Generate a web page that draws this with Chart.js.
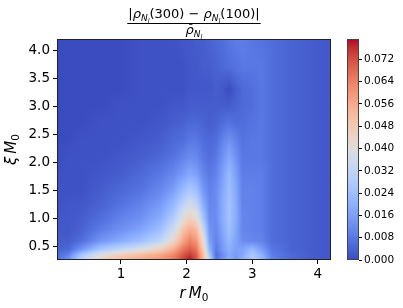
<!DOCTYPE html>
<html>
<head>
<meta charset="utf-8">
<script src="https://cdn.jsdelivr.net/npm/chart.js@4.4.1/dist/chart.umd.min.js"></script>
<style>
    html, body { margin: 0; padding: 0; background: #fff; }
    #wrap { position: relative; width: 403px; height: 308px; }
    #wrap canvas { position: absolute; left: 0; top: 0; }
</style>
</head>
<body>
<div id="wrap">
    <canvas id="heat" width="403" height="308"></canvas>
    <canvas id="cbar" width="403" height="308"></canvas>
</div>
<script>
// grid nodes (r M0 along x, xi M0 along y)
const rNodes = [0.026, 0.2, 0.4, 0.7, 1.0, 1.3, 1.6, 1.8, 1.95, 2.05, 2.15, 2.25, 2.35, 2.45, 2.55, 2.65, 2.75, 2.85, 3.0, 3.15, 3.3, 3.6, 3.9, 4.2];
const xiNodes = [0.26, 0.35, 0.45, 0.6, 0.8, 1.0, 1.25, 1.5, 1.8, 2.1, 2.4, 2.7, 3.0, 3.3, 3.7, 4.2];

// values x 1e-3, one array per xi row (same order as rNodes)
const xi026 = [6, 14, 32, 46, 52, 56, 60, 66, 74, 79, 72, 54, 30, 8, 14, 20, 14, 20, 28, 22, 10, 5, 3, 2];
const xi035 = [5, 10, 26, 40, 47, 52, 57, 63, 71, 75, 70, 52, 26, 6, 12, 18, 15, 18, 27, 20, 9, 5, 3, 2];
const xi045 = [4, 5, 14, 26, 32, 38, 46, 56, 66, 70, 66, 48, 20, 8, 15, 20, 16, 17, 22, 15, 8, 4, 3, 2];
const xi060 = [3, 3, 6, 14, 19, 24, 32, 44, 58, 64, 60, 42, 16, 10, 16, 22, 17, 12, 11, 10, 6, 4, 3, 2];
const xi080 = [2, 2, 4, 9, 13, 17, 24, 35, 50, 56, 52, 34, 14, 11, 18, 24, 18, 11, 10, 9, 6, 4, 3, 2];
const xi100 = [2, 2, 3, 6, 10, 13, 19, 28, 41, 46, 42, 26, 12, 12, 19, 25, 19, 11, 10, 9, 6, 4, 3, 2];
const xi125 = [1, 2, 2, 4, 7, 10, 15, 22, 31, 36, 32, 20, 11, 12, 19, 25, 19, 10, 10, 9, 6, 4, 3, 2];
const xi150 = [1, 1, 1, 3, 5, 7, 11, 16, 23, 27, 24, 15, 10, 12, 18, 24, 18, 10, 10, 9, 6, 4, 3, 2];
const xi180 = [1, 1, 1, 2, 3, 5, 8, 11, 15, 18, 16, 11, 8, 10, 16, 22, 16, 9, 9, 9, 6, 4, 3, 2];
const xi210 = [0, 1, 1, 1, 2, 3, 5, 7, 10, 12, 11, 8, 6, 8, 13, 18, 13, 8, 8, 8, 6, 4, 3, 2];
const xi240 = [0, 0, 1, 1, 1, 2, 3, 5, 6, 8, 8, 6, 5, 6, 10, 13, 10, 7, 8, 8, 6, 4, 3, 2];
const xi270 = [0, 0, 0, 1, 1, 1, 2, 3, 4, 5, 5, 4, 3, 4, 6, 7, 6, 6, 7, 8, 6, 4, 3, 2];
const xi300 = [0, 0, 0, 0, 1, 1, 1, 2, 2, 3, 3, 3, 3, 3, 3, 3, 4, 5, 6, 8, 6, 4, 3, 2];
const xi330 = [0, 0, 0, 0, 0, 1, 1, 1, 1, 2, 2, 2, 2, 3, 2, 0, 3, 5, 6, 8, 6, 4, 3, 2];
const xi370 = [0, 0, 0, 0, 0, 1, 1, 1, 1, 2, 2, 3, 3, 4, 5, 6, 7, 8, 8, 8, 6, 4, 3, 2];
const xi420 = [0, 0, 0, 0, 0, 1, 1, 1, 2, 2, 3, 3, 4, 5, 6, 8, 9, 9, 8, 7, 6, 4, 3, 2];
const gridRows = [xi026, xi035, xi045, xi060, xi080, xi100, xi125, xi150, xi180, xi210, xi240, xi270, xi300, xi330, xi370, xi420];

const xTicks = [1, 2, 3, 4];
const yTicks = [0.5, 1.0, 1.5, 2.0, 2.5, 3.0, 3.5, 4.0];
const cbTicks = [0, 0.008, 0.016, 0.024, 0.032, 0.040, 0.048, 0.056, 0.064, 0.072];
const vMax = 0.0793;

const FONT = "'DejaVu Sans', sans-serif";

// coolwarm colormap, 33 stops
const coolwarm = [
    [59,76,192],[68,90,204],[77,104,215],[87,117,225],[98,130,234],[108,142,241],[119,154,247],[130,165,251],
    [141,176,254],[152,185,255],[163,194,255],[174,201,253],[184,208,249],[194,213,244],[204,217,238],[213,219,230],
    [221,221,221],[229,216,209],[236,211,197],[241,204,184],[245,196,173],[247,187,160],[247,177,148],[247,166,135],
    [244,154,123],[241,141,111],[236,127,99],[229,112,89],[222,96,77],[213,80,66],[203,62,56],[192,40,47],[180,4,38]
];
const cmap = (t) => {
    t = Math.max(0, Math.min(1, t)) * (coolwarm.length - 1);
    const i = Math.min(Math.floor(t), coolwarm.length - 2);
    const f = t - i;
    const a = coolwarm[i], b = coolwarm[i + 1];
    return [a[0] + (b[0] - a[0]) * f, a[1] + (b[1] - a[1]) * f, a[2] + (b[2] - a[2]) * f];
};

const locate = (nodes, v) => {
    if (v <= nodes[0]) return [0, 0];
    for (let k = 0; k < nodes.length - 1; k++) {
        if (v <= nodes[k + 1]) return [k, (v - nodes[k]) / (nodes[k + 1] - nodes[k])];
    }
    return [nodes.length - 2, 1];
};

// gouraud-like shading of the grid through the chart scales
const heatPlugin = {
    id: 'heat',
    beforeDatasetsDraw(chart) {
        const { ctx, chartArea: a, scales: { x, y } } = chart;
        const w = Math.round(a.right - a.left), h = Math.round(a.bottom - a.top);
        const off = document.createElement('canvas');
        off.width = w; off.height = h;
        const octx = off.getContext('2d');
        const img = octx.createImageData(w, h);
        for (let j = 0; j < h; j++) {
            const [j0, ty] = locate(xiNodes, y.getValueForPixel(a.top + j + 0.5));
            const r0 = gridRows[j0], r1 = gridRows[j0 + 1];
            for (let i = 0; i < w; i++) {
                const [i0, tx] = locate(rNodes, x.getValueForPixel(a.left + i + 0.5));
                const v = (r0[i0] * (1 - tx) + r0[i0 + 1] * tx) * (1 - ty) + (r1[i0] * (1 - tx) + r1[i0 + 1] * tx) * ty;
                const c = cmap(v * 1e-3 / vMax);
                const p = (j * w + i) * 4;
                img.data[p] = c[0]; img.data[p + 1] = c[1]; img.data[p + 2] = c[2]; img.data[p + 3] = 255;
            }
        }
        octx.putImageData(img, 0, 0);
        ctx.drawImage(off, a.left, a.top);
    },
    afterDatasetsDraw(chart) {
        const { ctx, chartArea: a } = chart;
        ctx.save();
        ctx.strokeStyle = '#222';
        ctx.lineWidth = 1;
        ctx.strokeRect(a.left + 0.5, a.top + 0.5, a.right - a.left - 1, a.bottom - a.top - 1);
        ctx.restore();
    }
};

// piecewise math text: [{t, size, it, dy, over}]
const drawMath = (ctx, pieces, cx, base) => {
    const widths = pieces.map(p => {
        if (p.over) return 0;
        ctx.font = `${p.it ? 'italic ' : ''}${p.size}px ${FONT}`;
        return ctx.measureText(p.t).width;
    });
    const total = widths.reduce((s, v) => s + v, 0);
    let xPos = cx - total / 2;
    ctx.textBaseline = 'alphabetic';
    pieces.forEach((p, k) => {
        ctx.font = `${p.it ? 'italic ' : ''}${p.size}px ${FONT}`;
        if (p.over) {
            ctx.textAlign = 'center';
            ctx.fillText(p.t, xPos - widths[k - 1] / 2 + (p.dx || 0), base + (p.dy || 0));
        } else {
            ctx.textAlign = 'left';
            ctx.fillText(p.t, xPos, base + (p.dy || 0));
        }
        xPos += widths[k];
    });
    return total;
};

const labelsPlugin = {
    id: 'labels',
    afterDraw(chart) {
        const { ctx, chartArea: a } = chart;
        const cx = (a.left + a.right) / 2;
        ctx.save();
        ctx.fillStyle = '#000';
        const rho = [
            { t: 'ρ', size: 13, it: true },
            { t: 'N', size: 9, it: true, dy: 3 },
            { t: 'l', size: 6.5, it: true, dy: 5 }
        ];
        const num = [{ t: '|', size: 13 }, ...rho, { t: '(300) − ', size: 13 }, ...rho, { t: '(100)|', size: 13 }];
        const wNum = drawMath(ctx, num, cx, 18);
        ctx.strokeStyle = '#000';
        ctx.lineWidth = 1;
        ctx.beginPath();
        ctx.moveTo(cx - wNum / 2 - 1, 23.5);
        ctx.lineTo(cx + wNum / 2 + 1, 23.5);
        ctx.stroke();
        drawMath(ctx, [
            { t: 'ρ', size: 13, it: true },
            { t: '\u00af', size: 11, over: true, dy: -2, dx: 1 },
            { t: 'N', size: 9, it: true, dy: 3 },
            { t: 'l', size: 6.5, it: true, dy: 5 }
        ], cx, 34);

        // x axis label
        drawMath(ctx, [{ t: 'r', size: 15, it: true }, { t: '\u2009', size: 15 }, { t: 'M', size: 15, it: true }, { t: '0', size: 10.5, dy: 3 }], cx, 298);
        // y axis label
        ctx.translate(16, (a.top + a.bottom) / 2);
        ctx.rotate(-Math.PI / 2);
        drawMath(ctx, [{ t: 'ξ', size: 15, it: true }, { t: '\u2009', size: 15 }, { t: 'M', size: 15, it: true }, { t: '0', size: 10.5, dy: 3 }], 0, 0);
        ctx.restore();
    }
};

new Chart(document.getElementById('heat'), {
    type: 'scatter',
    data: { datasets: [] },
    options: {
        responsive: false,
        animation: false,
        layout: { padding: { left: 0, right: 72, top: 39, bottom: 0 } },
        plugins: { legend: { display: false }, tooltip: { enabled: false } },
        scales: {
            x: {
                type: 'linear', min: rNodes[0], max: rNodes[rNodes.length - 1],
                afterBuildTicks: s => { s.ticks = xTicks.map(v => ({ value: v })); },
                afterFit: s => { s.height = 48; },
                ticks: { color: '#000', font: { family: FONT, size: 13.5 }, padding: 2, maxRotation: 0, callback: v => String(v) },
                grid: { drawOnChartArea: false, tickLength: 4, color: '#000' },
                border: { display: false }
            },
            y: {
                type: 'linear', min: xiNodes[0], max: xiNodes[xiNodes.length - 1],
                afterBuildTicks: s => { s.ticks = yTicks.map(v => ({ value: v })); },
                afterFit: s => { s.width = 57; },
                ticks: { color: '#000', font: { family: FONT, size: 13.5 }, padding: 3, callback: v => v.toFixed(1) },
                grid: { drawOnChartArea: false, tickLength: 4, color: '#000' },
                border: { display: false }
            }
        }
    },
    plugins: [heatPlugin, labelsPlugin]
});

const cbarPlugin = {
    id: 'cbarFill',
    beforeDatasetsDraw(chart) {
        const { ctx, chartArea: a, scales: { y } } = chart;
        for (let py = Math.floor(a.top); py < a.bottom; py++) {
            const c = cmap(y.getValueForPixel(py + 0.5) / vMax);
            ctx.fillStyle = `rgb(${c[0] | 0},${c[1] | 0},${c[2] | 0})`;
            ctx.fillRect(a.left, py, a.right - a.left, 1);
        }
    },
    afterDatasetsDraw(chart) {
        const { ctx, chartArea: a } = chart;
        ctx.save();
        ctx.strokeStyle = '#444';
        ctx.lineWidth = 1;
        ctx.strokeRect(a.left + 0.5, a.top + 0.5, a.right - a.left - 1, a.bottom - a.top - 1);
        ctx.restore();
    }
};

new Chart(document.getElementById('cbar'), {
    type: 'scatter',
    data: { datasets: [] },
    options: {
        responsive: false,
        animation: false,
        layout: { padding: { left: 347, right: 0, top: 39, bottom: 48 } },
        plugins: { legend: { display: false }, tooltip: { enabled: false } },
        scales: {
            x: { display: false, min: 0, max: 1 },
            y: {
                position: 'right', min: 0, max: vMax,
                afterBuildTicks: s => { s.ticks = cbTicks.map(v => ({ value: v })); },
                afterFit: s => { s.width = 44; },
                ticks: { color: '#000', font: { family: FONT, size: 10.5 }, padding: 2, callback: v => v.toFixed(3) },
                grid: { drawOnChartArea: false, tickLength: 3, color: '#000' },
                border: { display: false }
            }
        }
    },
    plugins: [cbarPlugin]
});
</script>
</body>
</html>
